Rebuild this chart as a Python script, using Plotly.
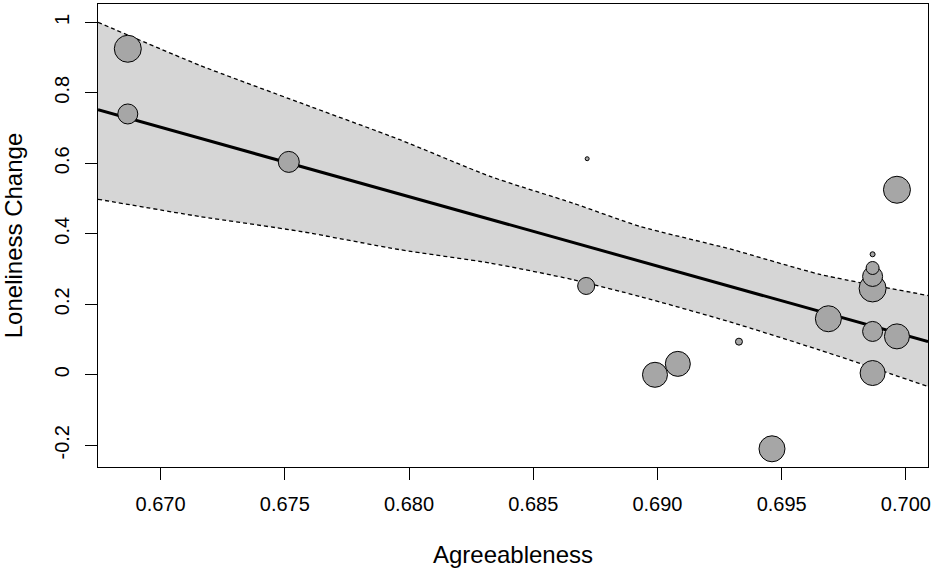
import plotly.graph_objects as go

# study points (moderator, effect, marker diameter)
agree = [0.66868, 0.66868, 0.67516, 0.68717, 0.68713, 0.68990, 0.69082, 0.69328, 0.69461,
         0.69688, 0.69866, 0.69866, 0.69866, 0.69866, 0.69866, 0.69866, 0.69964, 0.69964]
lonely = [0.925, 0.740, 0.604, 0.613, 0.252, 0.000, 0.031, 0.094, -0.210,
          0.159, 0.245, 0.279, 0.303, 0.342, 0.123, 0.005, 0.525, 0.109]
weight = [27, 20, 21, 4, 17, 25, 25, 7, 26,
          26, 27, 20, 13, 5, 20, 25, 27, 25]

# fitted line and confidence band
grid_x = [0.66748, 0.67158, 0.67561, 0.67963, 0.68326, 0.68660, 0.68930, 0.69292, 0.69654, 0.70089]
pred = [0.752, 0.671, 0.592, 0.513, 0.441, 0.376, 0.323, 0.251, 0.180, 0.094]
ci_up = [1.000, 0.878, 0.772, 0.667, 0.563, 0.487, 0.421, 0.357, 0.285, 0.225]
ci_lo = [0.498, 0.449, 0.407, 0.355, 0.317, 0.270, 0.222, 0.150, 0.070, -0.033]

x_ticks = [0.670, 0.675, 0.680, 0.685, 0.690, 0.695, 0.700]
x_labels = ["0.670", "0.675", "0.680", "0.685", "0.690", "0.695", "0.700"]
y_ticks = [-0.2, 0, 0.2, 0.4, 0.6, 0.8, 1]
y_labels = ["-0.2", "0", "0.2", "0.4", "0.6", "0.8", "1"]

fnt = dict(family="Liberation Sans, Arial, sans-serif", size=20, color="black")
dashed = dict(color="black", width=1.3, dash="4px,3px", shape="spline", smoothing=0.6)

fig = go.Figure()
fig.add_trace(go.Scatter(x=grid_x, y=ci_lo, mode="lines", line=dashed))
fig.add_trace(go.Scatter(x=grid_x, y=ci_up, mode="lines", fill="tonexty",
                         fillcolor="#D6D6D6", line=dashed))
fig.add_trace(go.Scatter(x=grid_x, y=pred, mode="lines",
                         line=dict(color="black", width=3)))
fig.add_trace(go.Scatter(x=agree, y=lonely, mode="markers", opacity=1,
                         marker=dict(size=weight, color="#A6A6A6", opacity=1,
                                     line=dict(color="black", width=1))))

fig.update_layout(
    width=935, height=570,
    margin=dict(l=98, r=7, t=4, b=103),
    plot_bgcolor="white", paper_bgcolor="white",
    showlegend=False, font=fnt,
)
fig.update_xaxes(
    range=[0.66748, 0.70089], tickvals=x_ticks, ticktext=x_labels,
    showgrid=False, zeroline=False, showline=True, mirror=True,
    linecolor="black", linewidth=1, ticks="outside", ticklen=12,
    tickcolor="black", ticklabelstandoff=7,
    title=dict(text="Agreeableness", standoff=32),
)
fig.update_yaxes(
    range=[-0.2616, 1.052], tickvals=y_ticks, ticktext=y_labels, tickangle=-90,
    showgrid=False, zeroline=False, showline=True, mirror=True,
    linecolor="black", linewidth=1, ticks="outside", ticklen=12,
    tickcolor="black", ticklabelstandoff=8,
    title=dict(text="Loneliness Change", standoff=22),
)

fig.write_html("out.html", config={"displayModeBar": False},
               post_script="document.body.style.margin='0px';")
